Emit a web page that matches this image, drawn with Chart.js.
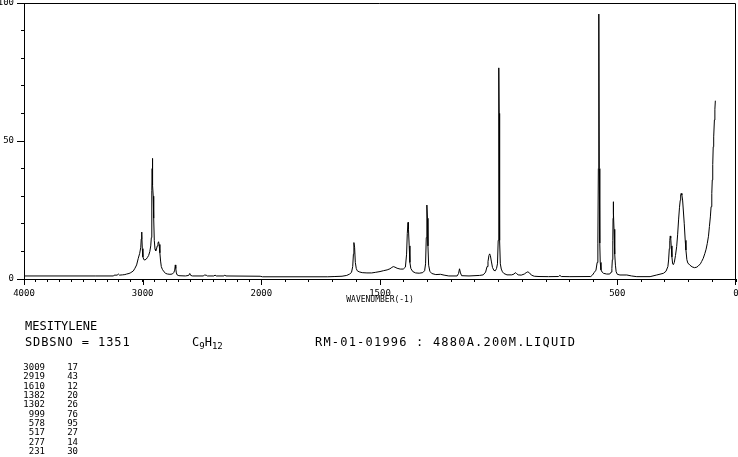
<!DOCTYPE html>
<html><head><meta charset="utf-8">
<script src="https://cdn.jsdelivr.net/npm/chart.js@4.4.0/dist/chart.umd.min.js"></script>
<style>
html,body{margin:0;padding:0;background:#fff;width:738px;height:457px;overflow:hidden;}
#wrap{position:absolute;left:0;top:0;width:738px;height:457px;}
.t{position:absolute;font-family:"DejaVu Sans Mono",monospace;color:#000;white-space:pre;line-height:1;}
.row{position:absolute;left:0;height:9px;font-size:9px;}
.row span{position:absolute;top:0;text-align:right;}
sub{font-size:9px;vertical-align:-3px;line-height:0;}
</style></head><body>
<div id="wrap"><canvas id="c"></canvas></div>
<div class="t" style="left:25px;top:320px;font-size:12px;letter-spacing:0px;">MESITYLENE</div>
<div class="t" style="left:25px;top:336px;font-size:12px;letter-spacing:0.9px;">SDBSNO = 1351</div>
<div class="t" style="left:192px;top:336px;font-size:12px;">C<sub>9</sub>H<sub>12</sub></div>
<div class="t" style="left:315px;top:336px;font-size:12px;letter-spacing:1.2px;">RM-01-01996 : 4880A.200M.LIQUID</div>
<div class="t" id="tbl" style="left:0;top:363px;"></div>
<script>
// ---- data ----
const wavenumbers = [4000,3400,3245,3240,3215,3205,3195,3170,3150,3135,3115,3100,3090,3079,3065,3051,3037,3025,3016,3012,3009,3006,3003,2998,2990,2981,2970,2960,2950,2940,2932,2927,2924,2922,2920,2919,2917,2914,2911,2907,2902,2896,2890,2884,2877,2871,2866,2861,2855,2849,2843,2834,2820,2805,2790,2770,2750,2737,2730,2725,2721,2716,2710,2695,2640,2612,2603,2595,2580,2490,2480,2465,2455,2400,2390,2380,2315,2308,2298,2010,1995,1720,1690,1660,1640,1628,1620,1615,1612,1610,1607,1604,1600,1596,1588,1575,1555,1535,1520,1500,1486,1470,1458,1450,1444,1437,1428,1415,1402,1393,1388,1385,1382,1380,1377,1374,1370,1362,1350,1335,1320,1312,1308,1305,1303,1302,1300,1298,1295,1290,1282,1265,1245,1230,1210,1175,1169,1165,1161,1156,1125,1080,1065,1055,1049,1045,1041,1038,1035,1031,1026,1020,1014,1009,1005,1002,1000,999,998,996,993,989,984,978,965,945,935,930,925,918,905,892,884,877,870,862,850,830,790,748,742,736,700,612,605,597,590,585,582,580,578,576,574,572,569,564,558,545,532,526,523,521,519,518,517,516,514,512,510,508,505,500,489,460,440,418,362,334,306,295,287,284,281,279,277,275,273,270,267,264,260,255,250,246,242,238,235,233,231,228,225,222,218,214,211,207,203,195,185,175,165,159,150,145,138,131,126,121,116,112,108,105,102,100,98,96,94,91,89,87];
const intensities = [1.1,1.1,1.1,1.4,1.4,1.8,1.4,1.5,1.6,1.8,2.0,2.3,2.6,2.9,3.9,5.1,7.5,9.3,11.5,14.5,17.0,16.0,11.0,8.0,7.0,6.9,7.2,7.8,8.5,9.9,12.0,15.0,22.0,32.0,40.0,43.7,38.0,34.0,30.0,22.0,14.0,10.8,10.2,10.8,12.0,13.0,13.5,12.5,9.5,6.5,4.5,3.5,2.6,2.0,1.8,1.7,1.8,2.4,3.2,5.1,3.8,2.2,1.5,1.2,1.1,1.3,2.0,1.3,1.1,1.1,1.4,1.4,1.1,1.1,1.4,1.1,1.1,1.4,1.1,1.0,0.8,0.8,0.9,1.0,1.3,1.8,2.4,4.5,9.0,13.2,11.5,6.0,3.8,3.0,2.6,2.3,2.2,2.2,2.4,2.7,3.0,3.3,3.7,4.2,4.5,4.3,3.9,3.6,3.6,4.3,9.0,16.5,20.5,18.0,12.0,6.0,3.8,2.7,2.2,2.1,2.3,3.0,5.5,15.0,25.0,26.8,22.0,12.0,5.0,2.8,2.0,1.6,1.7,1.4,1.1,1.1,2.0,3.7,2.2,1.2,1.1,1.3,1.5,2.5,4.5,6.3,8.5,9.1,8.5,6.5,4.2,3.1,3.0,3.8,5.5,14.0,60.0,76.5,60.0,14.0,5.5,3.6,2.6,2.0,1.5,1.5,1.8,2.3,2.0,1.5,1.4,1.8,2.3,2.6,2.2,1.4,1.0,0.9,0.85,0.9,1.3,0.9,0.85,0.9,1.4,2.4,3.2,6.0,13.0,40.0,96.0,40.0,13.0,6.0,3.3,2.5,2.05,1.8,1.8,2.5,3.8,7.0,14.0,22.0,28.0,24.0,18.0,14.0,9.0,5.0,2.6,1.7,1.45,1.45,1.1,0.85,0.85,1.45,2.05,2.8,4.5,6.9,11.0,14.0,15.6,14.8,12.0,8.0,5.5,5.2,6.0,8.5,11.7,16.0,21.4,26.0,28.5,30.5,31.0,30.4,28.6,25.0,20.0,14.0,10.5,7.0,5.8,5.07,4.4,4.1,4.3,4.7,5.5,6.3,7.5,9.3,10.8,12.9,15.5,19.0,22.5,26.2,31.0,35.9,41.5,47.9,51.5,57.6,61.5,64.6];
const xTickLabels = [4000, 3000, 2000, 1500, 500, 0];
const yTickLabels = [0, 50, 100];
const peakWavenumbers = [3009, 2919, 1610, 1382, 1302, 999, 578, 517, 277, 231];
const peakIntensities = [17, 43, 12, 20, 26, 76, 95, 27, 14, 30];
const AXIS_BREAK = 2000; // above this wavenumber the axis is compressed 2:1

// ---- peak table ----
const tbl = document.getElementById('tbl');
peakWavenumbers.forEach((w, i) => {
  const r = document.createElement('div');
  r.className = 'row';
  r.style.top = (i * 9.35) + 'px';
  r.innerHTML = '<span style="left:20px;width:25px">' + w + '</span><span style="left:64px;width:14px">' + peakIntensities[i] + '</span>';
  tbl.appendChild(r);
});

// ---- custom split axis ----
class SplitScale extends Chart.LinearScale {
  toU(v) { return v <= AXIS_BREAK ? v : AXIS_BREAK + (v - AXIS_BREAK) / 2; }
  fromU(u) { return u <= AXIS_BREAK ? u : AXIS_BREAK + (u - AXIS_BREAK) * 2; }
  getPixelForValue(v) {
    if (v === null || v === undefined || isNaN(v)) return NaN;
    const u0 = this.toU(this.min), u1 = this.toU(this.max);
    return this.getPixelForDecimal((this.toU(v) - u0) / (u1 - u0));
  }
  getValueForPixel(p) {
    const u0 = this.toU(this.min), u1 = this.toU(this.max);
    return this.fromU(u0 + this.getDecimalForPixel(p) * (u1 - u0));
  }
}
SplitScale.id = 'split';
SplitScale.defaults = {};
Chart.register(SplitScale);

const points = wavenumbers.map((w, i) => ({ x: w, y: intensities[i] }));
const minorX = [];
for (let v = 4000; v >= 0; v -= 100) minorX.push(v);
const minorY = [];
for (let v = 0; v <= 100; v += 10) minorY.push(v);

const frame = {
  id: 'frame',
  afterDraw(chart) {
    const { ctx, chartArea: a, scales } = chart;
    ctx.save();
    ctx.strokeStyle = '#000';
    ctx.lineWidth = 1;
    ctx.beginPath();
    const top = Math.round(a.top) + 0.5, right = Math.round(a.right) - 0.5;
    ctx.moveTo(Math.round(a.left), top); ctx.lineTo(right, top); ctx.lineTo(right, Math.round(a.bottom));
    // longer major ticks
    xTickLabels.forEach(v => {
      const x = Math.round(scales.x.getPixelForValue(v)) + (v === 0 ? -0.5 : 0.5);
      ctx.moveTo(x, a.bottom); ctx.lineTo(x, a.bottom + 6);
    });
    yTickLabels.forEach(v => {
      const y = Math.round(scales.y.getPixelForValue(v)) + 0.5;
      ctx.moveTo(a.left, y); ctx.lineTo(a.left - 7, y);
    });
    ctx.stroke();
    ctx.restore();
  }
};

Chart.defaults.font.family = '"DejaVu Sans Mono", monospace';
new Chart(document.getElementById('c'), {
  type: 'line',
  data: { datasets: [{ data: points, borderColor: '#000', borderWidth: 1, pointRadius: 0, tension: 0, fill: false }] },
  options: {
    responsive: true, maintainAspectRatio: false, animation: false, devicePixelRatio: 1,
    layout: { padding: { top: 3, right: 2, left: 0, bottom: 150 } },
    plugins: { legend: { display: false }, tooltip: { enabled: false } },
    scales: {
      x: {
        type: 'split', min: 0, max: 4000, reverse: true,
        afterBuildTicks: s => { s.ticks = minorX.map(v => ({ value: v })); },
        afterFit: s => { s.height = 28; s.paddingLeft = 0; s.paddingRight = 0; },
        grid: { drawOnChartArea: false, drawTicks: true, tickLength: 3, color: '#000', tickColor: '#000' },
        border: { display: true, color: '#000', width: 1 },
        ticks: { autoSkip: false, maxRotation: 0, minRotation: 0, padding: 6, color: '#000', font: { size: 9 },
                 callback: v => xTickLabels.includes(v) ? String(v) : '' },
        title: { display: true, text: 'WAVENUMBER(-1)', color: '#000', font: { size: 8 }, padding: { top: 0, bottom: 2 } }
      },
      y: {
        min: 0, max: 100,
        afterBuildTicks: s => { s.ticks = minorY.map(v => ({ value: v })); },
        afterFit: s => { s.width = 24; s.paddingTop = 0; s.paddingBottom = 0; },
        grid: { drawOnChartArea: false, drawTicks: true, tickLength: 3, color: '#000', tickColor: '#000' },
        border: { display: true, color: '#000', width: 1 },
        ticks: { autoSkip: false, padding: 7, color: '#000', font: { size: 9 },
                 callback: v => yTickLabels.includes(v) ? String(v) : '' }
      }
    }
  },
  plugins: [frame]
});
</script>
</body></html>
